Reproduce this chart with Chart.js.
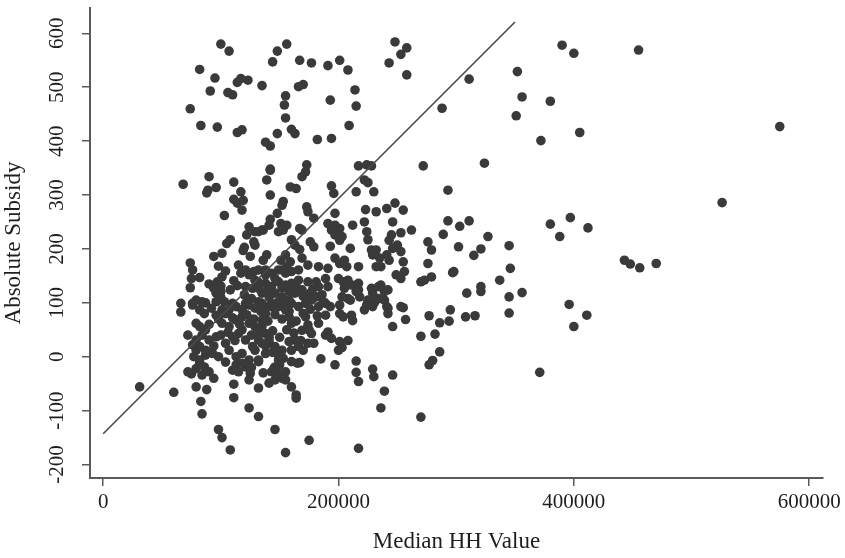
<!DOCTYPE html>
<html>
<head>
<meta charset="utf-8">
<script src="https://cdn.jsdelivr.net/npm/chart.js@4.4.1/dist/chart.umd.min.js"></script>
<style>
  html, body { margin: 0; padding: 0; background: #fff; }
  canvas { display: block; }
</style>
</head>
<body>
<canvas id="myChart" width="845" height="558"></canvas>
<script>
// median HH value, thousands of dollars
const hhValueK = [
  // upper band
  100,107,82,95,117,114,123,135,91,106,
  110,74,83,97,114,118,148,138,142,142,
  148,144,156,155,154,155,167,177,201,191,
  208,166,170,214,215,193,209,182,194,160,
  163,248,253,258,243,258,311,288,272,324,
  352,356,351,380,372,390,400,455,405,575,
  526,293,
  // left middle
  68,90,88,89,96,111,117,111,114,119,
  118,103,124,129,135,122,108,105,120,119,
  128,129,101,94,125,74,76,75,82,74,
  98,104,101,115,121,128,117,124,111,90,
  94,100,97,96,100,129,127,132,121,138,
  66,76,87,103,110,121,132,138,
  // centre middle
  173,172,169,142,139,142,159,164,217,224,
  228,222,225,215,230,194,196,197,153,152,
  148,142,141,136,132,173,174,179,151,156,
  149,153,167,169,191,197,201,194,200,197,
  203,212,222,224,232,241,248,255,246,262,
  223,160,163,176,179,167,193,201,210,225,
  228,232,245,243,246,250,253,253,276,279,
  276,139,136,151,155,159,156,152,169,174,
  183,191,197,201,207,205,217,229,235,232,
  241,243,236,255,256,249,253,270,273,279,
  200,204,208,211,205,174,181,189,183,191,
  215,217,228,229,236,239,176,181,187,203,
  208,218,225,229,239,241,253,
  // right side
  293,303,311,289,327,302,315,321,345,346,
  297,298,309,321,321,337,345,356,345,295,
  294,286,282,308,316,277,286,280,277,371,
  380,397,412,388,443,448,456,470,396,411,
  400,
  // lower middle
  270,270,246,239,236,255,257,246,217,175,
  155,215,215,217,229,230,197,185,200,203,
  208,194,191,189,183,193,189,201,204,211,
  212,201,210,215,217,224,222,231,234,234,
  242,242,242,
  // lower left
  66,31,60,72,72,75,79,88,83,84,
  98,101,108,111,111,124,132,132,141,124,
  125,121,132,138,82,86,90,94,84,79,
  82,87,79,110,115,113,79,84,82,76,
  86,96,101,96,82,79,87,84,90,96,
  79,76,82,87,93,98,101,107,113,118,
  124,129,135,138,132,127,121,115,110,104,
  107,113,118,124,129,135,141,107,113,118,
  124,129,135,138,
  // lower centre
  146,164,164,160,155,152,148,145,165,167,
  160,153,149,155,132,141,201,172,174,177,
  179,174,170,166,163,160,169,160,158,155,
  149,143,135,132,141,146,152,149,132,146,
  143,146,
  // core
  132,138,143,149,155,160,166,138,143,149,
  155,160,166,135,141,146,152,158,163,169,
  143,149,155,160,166,172,177,183,189,77,
  104,110,116,122,128,134,140,146,152,158,
  164,170,176,182,106,112,118,126,132,138,
  144,150,156,162,168,175,100,108,114,120,
  126,132,140,146,152,158,164,170,178,186,
  90,94,100,92,98,104,118,126,136,144,
  150,158
];
const subsidy = [
  // upper band
  580,567,533,517,516,509,513,503,493,490,
  486,460,429,426,416,421,414,398,391,348,
  567,547,580,484,467,443,550,545,550,540,
  532,501,505,495,465,476,429,403,405,422,
  414,584,561,573,545,523,515,461,354,359,
  529,482,447,474,401,578,563,569,416,427,
  286,309,
  // left middle
  320,334,304,309,314,324,306,292,285,290,
  272,262,241,232,235,226,217,210,203,197,
  213,207,192,186,186,174,161,145,147,128,
  168,159,148,170,161,158,155,152,141,135,
  127,131,139,118,121,142,127,127,130,161,
  99,99,100,102,99,99,102,93,
  // centre middle
  356,343,334,346,328,300,315,312,354,356,
  354,328,323,306,306,317,303,266,288,281,
  266,255,244,235,232,278,269,257,247,244,
  232,235,238,235,247,244,238,235,232,226,
  223,244,250,232,269,275,285,272,250,235,
  273,217,207,213,204,199,205,216,201,217,
  198,198,226,216,201,207,195,230,213,198,
  173,189,179,179,189,176,167,161,183,170,
  167,164,183,173,167,179,167,189,183,167,
  189,179,167,176,158,152,145,139,142,148,
  145,139,142,133,127,139,139,145,130,130,
  133,124,127,118,133,121,118,111,102,111,
  108,111,105,93,105,93,93,
  // right side
  252,242,252,227,223,204,188,200,206,164,
  156,158,118,130,121,142,111,119,81,87,
  66,63,42,74,76,76,9,-7,-15,-29,
  246,258,239,223,179,172,165,173,97,77,
  56,
  // lower middle
  38,-112,-34,-64,-95,91,69,56,-170,-155,
  -178,-8,-29,-46,-23,-37,-15,-4,12,17,
  30,34,46,40,62,93,77,80,74,77,
  67,96,105,121,136,96,87,102,108,130,
  124,90,80,
  // lower left
  83,-56,-66,40,-28,-32,-56,-61,-83,-106,
  -135,-150,-173,-51,-76,-95,-111,-58,-49,-43,
  -31,-19,-8,6,-12,-19,-28,-40,-34,-22,
  -6,3,12,-25,-28,-15,105,102,87,96,
  80,77,87,102,56,62,50,40,31,37,
  31,22,19,12,6,0,62,56,68,74,
  62,56,68,43,31,19,31,43,37,25,
  12,0,6,-6,12,25,31,87,93,87,
  96,90,99,80,
  // lower centre
  -135,-71,-77,-56,-43,-40,-28,-22,-12,-11,
  -9,-3,3,-28,-6,25,28,74,59,43,
  25,25,12,19,31,12,49,62,74,87,
  93,99,56,43,37,19,12,-6,-9,-19,
  -28,-43,
  // core
  161,152,155,161,155,158,161,136,130,139,
  133,136,142,118,111,118,111,121,118,124,
  93,102,96,99,93,99,105,93,99,0,
  80,72,60,78,70,84,66,78,70,84,
  66,80,88,76,45,30,50,40,52,20,
  48,36,50,44,30,50,110,124,132,115,
  108,138,125,145,128,105,130,112,125,115,
  60,20,40,90,70,-10,-12,-20,-30,8,
  -15,28
];

// fitted line end points
const fitX = [0, 350000];
const fitY = [-143, 621];

const xTicks = [0, 200000, 400000, 600000];
const yTicks = [-200, -100, 0, 100, 200, 300, 400, 500, 600];

const FONT = '"Liberation Serif", "Times New Roman", serif';
const INK = '#1e1e1e';
const AXIS = '#5a5a5a';

const points = hhValueK.map((v, i) => ({ x: v * 1000, y: subsidy[i] }));
const fit = fitX.map((v, i) => ({ x: v, y: fitY[i] }));

// y tick labels are drawn turned on their side, as in the original
const yTickLabels = {
  id: 'yTickLabels',
  afterDraw(chart) {
    const { ctx } = chart;
    const y = chart.scales.y;
    ctx.save();
    ctx.font = '21px ' + FONT;
    ctx.fillStyle = INK;
    ctx.textAlign = 'center';
    ctx.textBaseline = 'alphabetic';
    y.ticks.forEach(t => {
      ctx.save();
      ctx.translate(63, y.getPixelForValue(t.value));
      ctx.rotate(-Math.PI / 2);
      ctx.fillText(String(t.value), 0, 0);
      ctx.restore();
    });
    ctx.restore();
  }
};

new Chart(document.getElementById('myChart'), {
  type: 'scatter',
  data: {
    datasets: [
      {
        type: 'line',
        data: fit,
        borderColor: '#4a4a4a',
        borderWidth: 1.6,
        pointRadius: 0,
        fill: false,
        order: 0
      },
      {
        data: points,
        backgroundColor: '#3a3a3a',
        borderWidth: 0,
        pointRadius: 4.8,
        pointHoverRadius: 4.8,
        order: 1
      }
    ]
  },
  options: {
    responsive: false,
    animation: false,
    layout: { padding: { left: 0, right: 17, top: 8, bottom: 0 } },
    plugins: {
      legend: { display: false },
      tooltip: { enabled: false }
    },
    scales: {
      x: {
        type: 'linear',
        min: -11200,
        max: 611600,
        afterBuildTicks: s => { s.ticks = xTicks.map(v => ({ value: v })); },
        afterFit: s => { s.height = 80; },
        grid: { display: true, drawOnChartArea: false, drawTicks: true, tickLength: 8, color: AXIS, lineWidth: 1.5 },
        border: { display: true, color: AXIS, width: 2 },
        ticks: {
          color: INK,
          font: { family: FONT, size: 21 },
          padding: 4,
          maxRotation: 0,
          callback: v => String(v)
        },
        title: {
          display: true,
          text: 'Median HH Value',
          color: INK,
          font: { family: FONT, size: 23 },
          padding: { top: 0, bottom: 2 }
        }
      },
      y: {
        type: 'linear',
        min: -225,
        max: 647,
        afterBuildTicks: s => { s.ticks = yTicks.map(v => ({ value: v })); },
        afterFit: s => { s.width = 90; },
        grid: { display: true, drawOnChartArea: false, drawTicks: true, tickLength: 8, color: AXIS, lineWidth: 1.5 },
        border: { display: true, color: AXIS, width: 2 },
        ticks: { display: false },
        title: {
          display: true,
          text: 'Absolute Subsidy',
          color: INK,
          font: { family: FONT, size: 23 },
          padding: { top: 0, bottom: 6 }
        }
      }
    }
  },
  plugins: [yTickLabels]
});
</script>
</body>
</html>
